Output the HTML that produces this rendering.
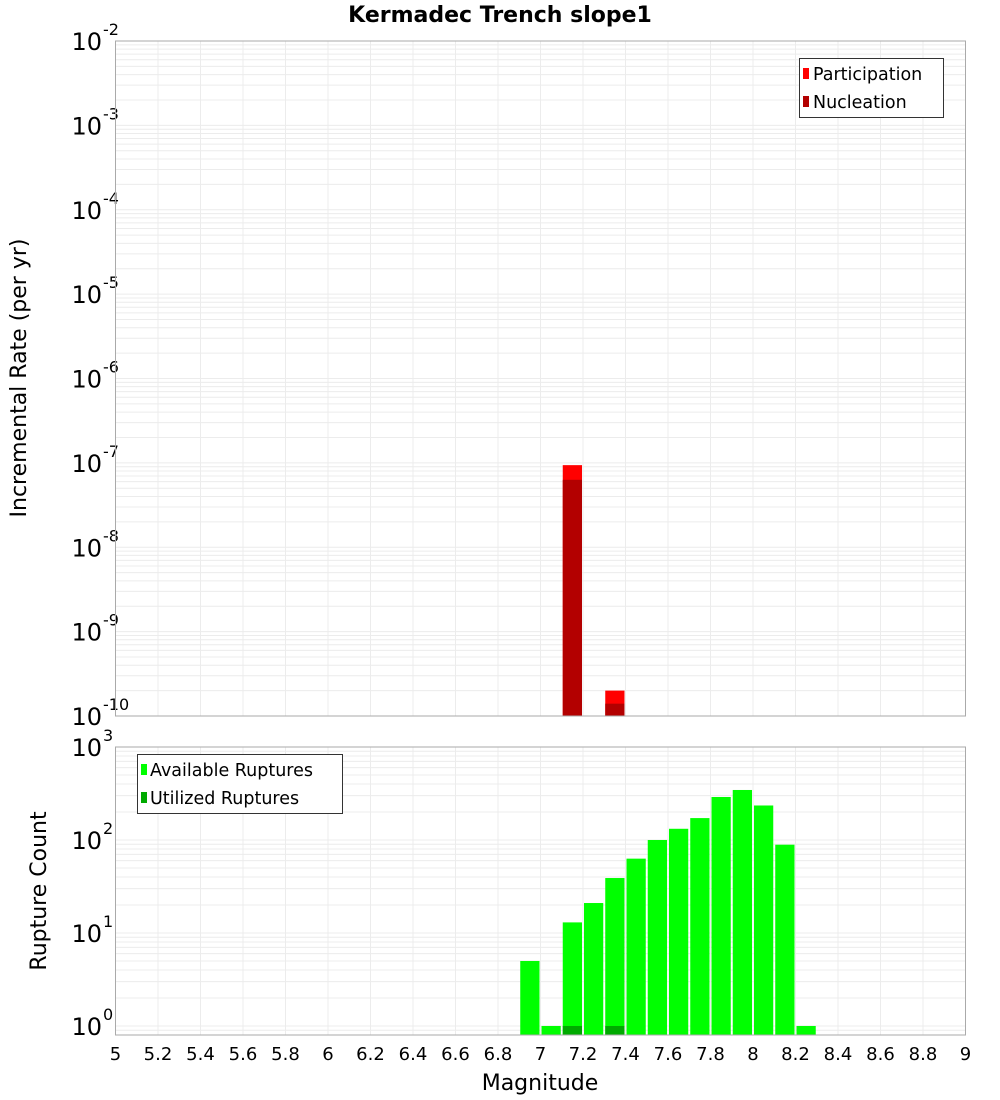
<!DOCTYPE html>
<html><head><meta charset="utf-8"><style>
body{margin:0;background:#fff;}
svg{display:block;font-family:"DejaVu Sans","Liberation Sans",sans-serif;}
</style></head><body>
<svg id="chart" width="1000" height="1100" xmlns="http://www.w3.org/2000/svg">
<text x="500" y="22" text-anchor="middle" font-size="22" font-weight="bold">Kermadec Trench slope1</text>
<g id="gtop"></g>
<g id="gbot"></g>
<text transform="translate(26,378) rotate(-90)" text-anchor="middle" font-size="22">Incremental Rate (per yr)</text>
<text transform="translate(46,891) rotate(-90)" text-anchor="middle" font-size="22">Rupture Count</text>
<text x="540" y="1090" text-anchor="middle" font-size="22">Magnitude</text>
<g>
<rect x="799.5" y="58.5" width="144" height="59" fill="#fff" stroke="#333"/>
<rect x="803" y="68" width="6" height="11" fill="#ff0000"/>
<text x="813" y="80" font-size="17.5">Participation</text>
<rect x="803" y="96" width="6" height="11" fill="#b30000"/>
<text x="813" y="108" font-size="17.5">Nucleation</text>
</g>
<g>
<rect x="137.5" y="754.5" width="205" height="59" fill="#fff" stroke="#333"/>
<rect x="141" y="764" width="6" height="11" fill="#00ff00"/>
<text x="150" y="776" font-size="17.5">Available Ruptures</text>
<rect x="141" y="792" width="6" height="11" fill="#00aa00"/>
<text x="150" y="804" font-size="17.5">Utilized Ruptures</text>
</g>
</svg>
<script>
const rateMags=[7.15,7.35];
const participation=[9.4e-8,2.0e-10];
const nucleation=[6.3e-8,1.4e-10];
const countMags=[6.95,7.05,7.15,7.25,7.35,7.45,7.55,7.65,7.75,7.85,7.95,8.05,8.15,8.25];
const available=[5,1,13,21,39,63,100,132,172,290,345,235,89,1];
const utilizedMags=[7.15,7.35];
const utilized=[1,1];
const xTicks=["5","5.2","5.4","5.6","5.8","6","6.2","6.4","6.6","6.8","7","7.2","7.4","7.6","7.8","8","8.2","8.4","8.6","8.8","9"];
const topExps=[-2,-3,-4,-5,-6,-7,-8,-9,-10];
const botExps=[3,2,1,0];

const NS="http://www.w3.org/2000/svg";
const X0=115.5,X1=965.5,XMIN=5,XMAX=9;
const xs=m=>X0+(m-XMIN)/(XMAX-XMIN)*(X1-X0);
const TP={top:41,bot:716,lmax:-2,lmin:-10};
const BP={top:747,bot:1035,lmax:3,lmin:-0.097};
const ys=(P,v)=>P.top+(P.lmax-Math.log10(v))/(P.lmax-P.lmin)*(P.bot-P.top);
function mk(p,tag,a){const e=document.createElementNS(NS,tag);for(const k in a)e.setAttribute(k,a[k]);p.appendChild(e);return e;}
function frame(g,P,exps,name){
  mk(g,'rect',{x:X0,y:P.top,width:X1-X0,height:P.bot-P.top,fill:'#fff'});
  for(let d=Math.floor(P.lmin);d<=P.lmax;d++)for(let k=1;k<10;k++){
    const l=d+Math.log10(k); if(l<P.lmin||l>P.lmax)continue;
    const y=ys(P,Math.pow(10,l));
    mk(g,'line',{x1:X0,x2:X1,y1:y,y2:y,stroke:'#ececec','stroke-width':1});
  }
  xTicks.forEach(t=>{const x=xs(+t);mk(g,'line',{x1:x,x2:x,y1:P.top,y2:P.bot,stroke:'#ececec'});});
  exps.forEach(e=>{
    const y=ys(P,Math.pow(10,e));
    const t=mk(g,'text',{x:102,y:y+9,'text-anchor':'end','font-size':24});
    
    
    t.textContent='10';
    const s=mk(g,'text',{x:103,y:y-6,'font-size':16});
    s.textContent=String(e);
  });
}
function bar(g,P,m,v,fill,name){
  const y=ys(P,v);
  const r=mk(g,'rect',{x:xs(m-0.05)+1,y:y,width:xs(m+0.05)-xs(m-0.05)-2,height:P.bot-y,fill:fill});
  
  
}
const gTop=document.getElementById('gtop'),gBot=document.getElementById('gbot');
frame(gTop,TP,topExps,'rate-y');
frame(gBot,BP,botExps,'count-y');
rateMags.forEach((m,i)=>{bar(gTop,TP,m,participation[i],'#ff0000','participation-bar');bar(gTop,TP,m,nucleation[i],'#b30000','nucleation-bar');});
countMags.forEach((m,i)=>bar(gBot,BP,m,available[i],'#00ff00','available-bar'));
utilizedMags.forEach((m,i)=>bar(gBot,BP,m,utilized[i],'#00aa00','utilized-bar'));
mk(gTop,'rect',{x:X0,y:TP.top,width:X1-X0,height:TP.bot-TP.top,fill:'none',stroke:'#aaa'});
mk(gBot,'rect',{x:X0,y:BP.top,width:X1-X0,height:BP.bot-BP.top,fill:'none',stroke:'#aaa'});
xTicks.forEach(t=>{
  const e=mk(gBot,'text',{x:xs(+t),y:1060,'text-anchor':'middle','font-size':18});
  
  
  e.textContent=t;
});
</script>
</body></html>
